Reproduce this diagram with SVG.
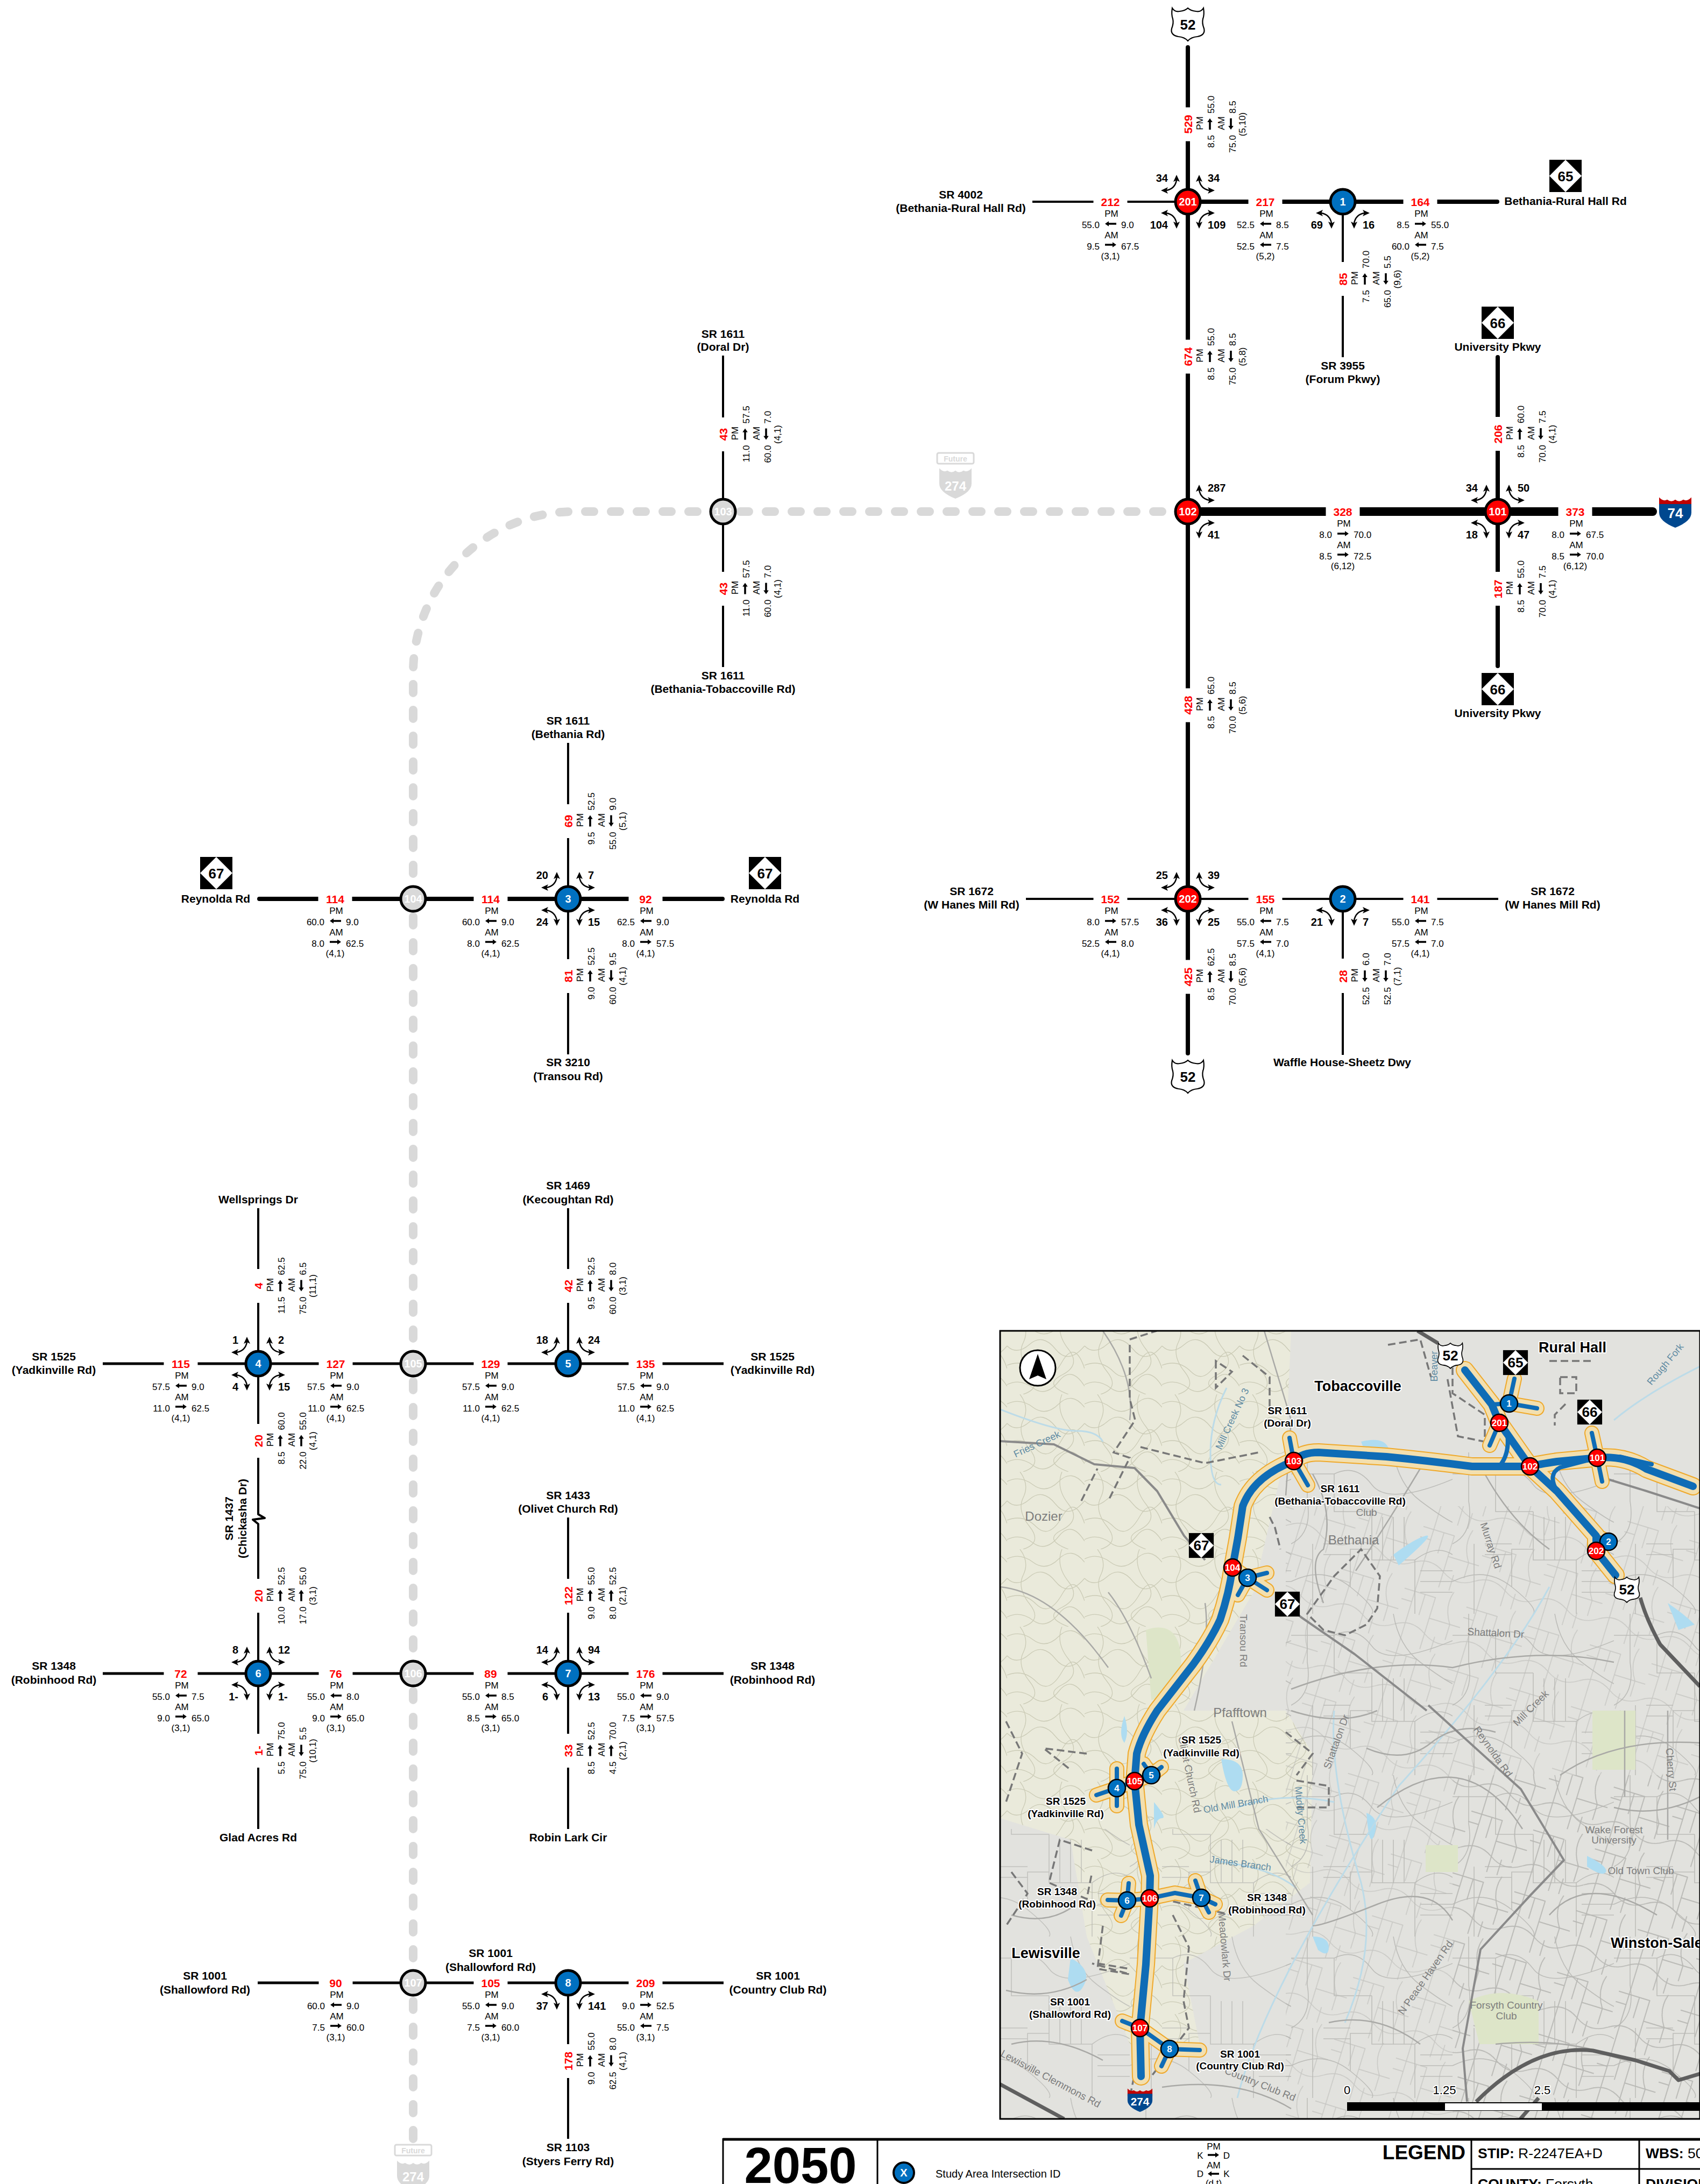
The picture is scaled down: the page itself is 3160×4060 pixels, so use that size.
<svg xmlns="http://www.w3.org/2000/svg" width="3160" height="4060" viewBox="0 0 3160 4060">
<style>
text{font-family:"Liberation Sans",Arial,Helvetica,sans-serif;fill:#000}
.v{font-size:21px;font-weight:700;fill:#f00;text-anchor:middle}
.s{font-size:17px;text-anchor:middle}
.l{font-size:17px;text-anchor:end}
.r{font-size:17px}
.cl{font-size:20px;font-weight:700;text-anchor:end}
.cr{font-size:20px;font-weight:700}
.n{font-size:21px;font-weight:700;text-anchor:middle}
.w{fill:#fff;font-weight:700;font-size:20px;text-anchor:middle}
.line{fill:none;stroke:#000;stroke-linejoin:round}
.w4{stroke-width:4}.w5{stroke-width:5}.w8{stroke-width:8}.w16{stroke-width:16}
.cap{stroke-linecap:round}
.red{fill:#f00;stroke:#000;stroke-width:5}
.blue{fill:#0070c0;stroke:#000;stroke-width:5}
.gray{fill:#d9d9d9;stroke:#000;stroke-width:5}
.future{fill:none;stroke:#d9d9d9;stroke-width:16;stroke-linecap:round;stroke-dasharray:16 32}
.fg{fill:#d9d9d9}
.sh{font-size:26px;font-weight:700;text-anchor:middle}
.sm{font-size:34px;font-weight:700;text-anchor:middle}
.shw{font-size:26px;font-weight:700;text-anchor:middle;fill:#fff}
.h{paint-order:stroke;stroke:#fff;stroke-width:4px;stroke-linejoin:round;text-anchor:middle;font-weight:700}
.m18{font-size:19px}.m27{font-size:27px}
.g{fill:#7d7d7d;font-size:19px;text-anchor:middle}
.b{fill:#5f8ba3;font-size:18px;text-anchor:middle}
.rd{fill:none;stroke:#8a8a8a;stroke-width:4;stroke-linejoin:round}
.rd2{fill:none;stroke:#5f5f5f;stroke-width:7;stroke-linejoin:round}
.st{fill:none;stroke:#a9a9a6;stroke-width:2.5}
.cb{fill:none;stroke:#777;stroke-width:3.5;stroke-dasharray:14 7}
.wt{fill:#aedcf1}
.pk{fill:#dde5c8}
.cb1{fill:none;stroke:#efa92b;stroke-width:34;stroke-linejoin:round;stroke-linecap:round}
.cb2{fill:none;stroke:#f3dfae;stroke-width:30;stroke-linejoin:round;stroke-linecap:round}
.cb3{fill:none;stroke:#0f6cb6;stroke-width:14;stroke-linejoin:round;stroke-linecap:round}
.lb1{fill:none;stroke:#efa92b;stroke-width:28;stroke-linejoin:round;stroke-linecap:round}
.lb2{fill:none;stroke:#f3dfae;stroke-width:24;stroke-linejoin:round;stroke-linecap:round}
.lb3{fill:none;stroke:#0f6cb6;stroke-width:8;stroke-linejoin:round;stroke-linecap:round}
.mr{fill:#f00;stroke:#000;stroke-width:2.5}
.mb{fill:#0070c0;stroke:#000;stroke-width:2.5}
.mt{fill:#fff;font-size:17px;font-weight:700;text-anchor:middle}
.lg{fill:none;stroke:#000;stroke-width:3}
</style>
<defs>
<path id="ar" d="M-10-1.8H4V-4.8L11 0 4 4.8V1.8H-10Z"/>
<path id="al" d="M11-1.8H-3V-4.8L-10 0-3 4.8V1.8H11Z"/>
<g id="t"><path d="M-40-21Q-24-24-21-40" fill="none" stroke="#000" stroke-width="2.5"/><path d="M-21-50-15-37-21-40-27-37Z"/><path d="M-50-21-37-27-40-21-37-15Z"/></g>
<path id="us" d="M-29-30Q-24-22-15-24-5-25 0-30 5-25 15-24 24-22 29-30 31-18 28-10 26-2 30 8 33 20 18 23 6 24 0 31-6 24-18 23-33 20-30 8-26-2-28-10-31-18-29-30Z" fill="#fff" stroke="#000" stroke-width="2.2"/>
<g id="nc"><rect x="-30" y="-30" width="60" height="60"/><path d="M0-30 30 0 0 30-30 0Z" fill="#fff"/></g>
<g id="is"><path d="M-30-8V-30Q-22-20-15-25-7-18 0-25 7-18 15-25 22-20 30-30V-8Z" fill="#c00000" transform="translate(0 -1) scale(1 .85)"/><path d="M-30-14H30V2Q30 18 0 30-30 18-30 2Z" fill="#00488f"/></g>
<g id="isg" class="fg"><path d="M-30-8V-30Q-22-20-15-25-7-18 0-25 7-18 15-25 22-20 30-30V-8Z" transform="translate(0 -1) scale(1 .85)"/><path d="M-30-14H30V2Q30 18 0 30-30 18-30 2Z"/></g>
<pattern id="streets" width="300" height="300" patternUnits="userSpaceOnUse"><path d="M0 40H80V110H150M80 40Q120 20 150 60T300 50M30 0V90Q40 150 0 170M150 110V200H230V300M230 200Q270 170 300 190M0 240Q60 210 110 250T150 300M110 250V180H150M190 0Q200 60 240 90T300 130M40 170V300M60 170H110M60 190H110M170 120V200M190 120V200M210 120V200M240 220H300M240 240H300M240 260H300" fill="none" stroke="#b4b4b0" stroke-width="1.6"/></pattern>
<pattern id="streets2" width="120" height="120" patternUnits="userSpaceOnUse" patternTransform="rotate(17)"><path d="M0 20H60V60H120M20 0V120M60 60V120M0 90Q30 70 60 90T120 90M90 0Q80 30 100 60M40 20V60M0 40H20M80 90V120M100 60V90" fill="none" stroke="#b6b6b2" stroke-width="1.4"/></pattern>
<pattern id="topo" width="240" height="240" patternUnits="userSpaceOnUse" patternTransform="scale(.6)"><path d="M0 30Q40 10 80 40T160 30T240 40M0 90Q30 120 70 85T150 100T240 90M0 150Q50 130 90 170T170 140T240 160M0 210Q40 190 80 220T160 200T240 215M40 0Q70 40 50 80T70 170T50 240M170 0Q150 50 190 100T170 180T190 240" fill="none" stroke="#cbcbb6" stroke-width="2.2"/></pattern>
<clipPath id="mapclip"><rect x="1859" y="2474" width="1301" height="1465"/></clipPath>
</defs>
<rect width="3160" height="4060" fill="#fff"/>

<g id="connectors">
<path class="future" d="M2160 951H1068A300 300 0 0 0 768 1251V3976"/>
<path class="line w4" d="M1919 375H2032.5M2095.5 375H2208M2496 375V487M2496 550V664M1907 1671H2032.5M2095.5 1671H2208M2208 1671H2320.5M2383.5 1671H2496M2496 1671H2608.5M2671.5 1671H2785M2496 1671V1782M2496 1846V1961M1344 661V776M1344 839V1063M1344 1126V1240M1056 1381V1495M1056 1558V1783M1056 1846V1960M480 2246V2359M480 2422V2647M480 2710V2815L492 2822 470 2825 480 2833V2935M480 2998V3223M480 3286V3400M1056 2246V2359M1056 2422V2535M1056 2821V2935M1056 2998V3223M1056 3286V3400M1056 3686V3800M1056 3863V3976"/>
<path class="line w5" d="M191 2535H304.5M367.5 2535H592.5M655.5 2535H880.5M943.5 2535H1168.5M1231.5 2535H1345M191 3111H304.5M367.5 3111H592.5M655.5 3111H880.5M943.5 3111H1168.5M1231.5 3111H1345M479 3686H592.5M655.5 3686H880.5M943.5 3686H1168.5M1231.5 3686H1345"/>
<path class="line w8" d="M2208 88V199.5M2208 262.5V631.5M2208 694.5V1279.5M2208 1342.5V1784.5M2208 1847.5V1958M2208 375H2320.5M2383.5 375H2496M2496 375H2608.5M2671.5 375H2783M2784 664V775M2784 838V1063M2784 1126V1238M482 1671H591.5M654.5 1671H880.5M943.5 1671H1168.5M1231.5 1671H1343"/>
<path class="line w8 cap" d="M2208 88h.01M2208 1958h.01M2783 375h.01M2784 664h.01M2784 1238h.01M482 1671h.01M1343 1671h.01"/>
<path class="line w16" d="M2208 951H2464.5M2527.5 951H2784M2784 951H2896.5M2959.5 951H3072"/>
<path class="line w16 cap" d="M3072 951h.01"/>
</g>

<g id="labels">
<g transform="translate(2064 375)"><text class="v" y="7.5">212</text><text class="s" x="2" y="28">PM</text><text class="l" x="-20" y="49">55.0</text><use href="#al" y="41"/><text class="r" x="20" y="49">9.0</text><text class="s" x="2" y="68">AM</text><text class="l" x="-20" y="89">9.5</text><use href="#ar" y="80"/><text class="r" x="20" y="89">67.5</text><text class="s" y="107">(3,1)</text></g>
<g transform="translate(2352 375)"><text class="v" y="7.5">217</text><text class="s" x="2" y="28">PM</text><text class="l" x="-20" y="49">52.5</text><use href="#al" y="41"/><text class="r" x="20" y="49">8.5</text><text class="s" x="2" y="68">AM</text><text class="l" x="-20" y="89">52.5</text><use href="#al" y="80"/><text class="r" x="20" y="89">7.5</text><text class="s" y="107">(5,2)</text></g>
<g transform="translate(2640 375)"><text class="v" y="7.5">164</text><text class="s" x="2" y="28">PM</text><text class="l" x="-20" y="49">8.5</text><use href="#ar" y="41"/><text class="r" x="20" y="49">55.0</text><text class="s" x="2" y="68">AM</text><text class="l" x="-20" y="89">60.0</text><use href="#al" y="80"/><text class="r" x="20" y="89">7.5</text><text class="s" y="107">(5,2)</text></g>
<g transform="translate(2496 951)"><text class="v" y="7.5">328</text><text class="s" x="2" y="28">PM</text><text class="l" x="-20" y="49">8.0</text><use href="#ar" y="41"/><text class="r" x="20" y="49">70.0</text><text class="s" x="2" y="68">AM</text><text class="l" x="-20" y="89">8.5</text><use href="#ar" y="80"/><text class="r" x="20" y="89">72.5</text><text class="s" y="107">(6,12)</text></g>
<g transform="translate(2928 951)"><text class="v" y="7.5">373</text><text class="s" x="2" y="28">PM</text><text class="l" x="-20" y="49">8.0</text><use href="#ar" y="41"/><text class="r" x="20" y="49">67.5</text><text class="s" x="2" y="68">AM</text><text class="l" x="-20" y="89">8.5</text><use href="#ar" y="80"/><text class="r" x="20" y="89">70.0</text><text class="s" y="107">(6,12)</text></g>
<g transform="translate(2064 1671)"><text class="v" y="7.5">152</text><text class="s" x="2" y="28">PM</text><text class="l" x="-20" y="49">8.0</text><use href="#ar" y="41"/><text class="r" x="20" y="49">57.5</text><text class="s" x="2" y="68">AM</text><text class="l" x="-20" y="89">52.5</text><use href="#al" y="80"/><text class="r" x="20" y="89">8.0</text><text class="s" y="107">(4,1)</text></g>
<g transform="translate(2352 1671)"><text class="v" y="7.5">155</text><text class="s" x="2" y="28">PM</text><text class="l" x="-20" y="49">55.0</text><use href="#al" y="41"/><text class="r" x="20" y="49">7.5</text><text class="s" x="2" y="68">AM</text><text class="l" x="-20" y="89">57.5</text><use href="#al" y="80"/><text class="r" x="20" y="89">7.0</text><text class="s" y="107">(4,1)</text></g>
<g transform="translate(2640 1671)"><text class="v" y="7.5">141</text><text class="s" x="2" y="28">PM</text><text class="l" x="-20" y="49">55.0</text><use href="#al" y="41"/><text class="r" x="20" y="49">7.5</text><text class="s" x="2" y="68">AM</text><text class="l" x="-20" y="89">57.5</text><use href="#al" y="80"/><text class="r" x="20" y="89">7.0</text><text class="s" y="107">(4,1)</text></g>
<g transform="translate(623 1671)"><text class="v" y="7.5">114</text><text class="s" x="2" y="28">PM</text><text class="l" x="-20" y="49">60.0</text><use href="#al" y="41"/><text class="r" x="20" y="49">9.0</text><text class="s" x="2" y="68">AM</text><text class="l" x="-20" y="89">8.0</text><use href="#ar" y="80"/><text class="r" x="20" y="89">62.5</text><text class="s" y="107">(4,1)</text></g>
<g transform="translate(912 1671)"><text class="v" y="7.5">114</text><text class="s" x="2" y="28">PM</text><text class="l" x="-20" y="49">60.0</text><use href="#al" y="41"/><text class="r" x="20" y="49">9.0</text><text class="s" x="2" y="68">AM</text><text class="l" x="-20" y="89">8.0</text><use href="#ar" y="80"/><text class="r" x="20" y="89">62.5</text><text class="s" y="107">(4,1)</text></g>
<g transform="translate(1200 1671)"><text class="v" y="7.5">92</text><text class="s" x="2" y="28">PM</text><text class="l" x="-20" y="49">62.5</text><use href="#al" y="41"/><text class="r" x="20" y="49">9.0</text><text class="s" x="2" y="68">AM</text><text class="l" x="-20" y="89">8.0</text><use href="#ar" y="80"/><text class="r" x="20" y="89">57.5</text><text class="s" y="107">(4,1)</text></g>
<g transform="translate(336 2535)"><text class="v" y="7.5">115</text><text class="s" x="2" y="28">PM</text><text class="l" x="-20" y="49">57.5</text><use href="#al" y="41"/><text class="r" x="20" y="49">9.0</text><text class="s" x="2" y="68">AM</text><text class="l" x="-20" y="89">11.0</text><use href="#ar" y="80"/><text class="r" x="20" y="89">62.5</text><text class="s" y="107">(4,1)</text></g>
<g transform="translate(624 2535)"><text class="v" y="7.5">127</text><text class="s" x="2" y="28">PM</text><text class="l" x="-20" y="49">57.5</text><use href="#al" y="41"/><text class="r" x="20" y="49">9.0</text><text class="s" x="2" y="68">AM</text><text class="l" x="-20" y="89">11.0</text><use href="#ar" y="80"/><text class="r" x="20" y="89">62.5</text><text class="s" y="107">(4,1)</text></g>
<g transform="translate(912 2535)"><text class="v" y="7.5">129</text><text class="s" x="2" y="28">PM</text><text class="l" x="-20" y="49">57.5</text><use href="#al" y="41"/><text class="r" x="20" y="49">9.0</text><text class="s" x="2" y="68">AM</text><text class="l" x="-20" y="89">11.0</text><use href="#ar" y="80"/><text class="r" x="20" y="89">62.5</text><text class="s" y="107">(4,1)</text></g>
<g transform="translate(1200 2535)"><text class="v" y="7.5">135</text><text class="s" x="2" y="28">PM</text><text class="l" x="-20" y="49">57.5</text><use href="#al" y="41"/><text class="r" x="20" y="49">9.0</text><text class="s" x="2" y="68">AM</text><text class="l" x="-20" y="89">11.0</text><use href="#ar" y="80"/><text class="r" x="20" y="89">62.5</text><text class="s" y="107">(4,1)</text></g>
<g transform="translate(336 3111)"><text class="v" y="7.5">72</text><text class="s" x="2" y="28">PM</text><text class="l" x="-20" y="49">55.0</text><use href="#al" y="41"/><text class="r" x="20" y="49">7.5</text><text class="s" x="2" y="68">AM</text><text class="l" x="-20" y="89">9.0</text><use href="#ar" y="80"/><text class="r" x="20" y="89">65.0</text><text class="s" y="107">(3,1)</text></g>
<g transform="translate(624 3111)"><text class="v" y="7.5">76</text><text class="s" x="2" y="28">PM</text><text class="l" x="-20" y="49">55.0</text><use href="#al" y="41"/><text class="r" x="20" y="49">8.0</text><text class="s" x="2" y="68">AM</text><text class="l" x="-20" y="89">9.0</text><use href="#ar" y="80"/><text class="r" x="20" y="89">65.0</text><text class="s" y="107">(3,1)</text></g>
<g transform="translate(912 3111)"><text class="v" y="7.5">89</text><text class="s" x="2" y="28">PM</text><text class="l" x="-20" y="49">55.0</text><use href="#al" y="41"/><text class="r" x="20" y="49">8.5</text><text class="s" x="2" y="68">AM</text><text class="l" x="-20" y="89">8.5</text><use href="#ar" y="80"/><text class="r" x="20" y="89">65.0</text><text class="s" y="107">(3,1)</text></g>
<g transform="translate(1200 3111)"><text class="v" y="7.5">176</text><text class="s" x="2" y="28">PM</text><text class="l" x="-20" y="49">55.0</text><use href="#al" y="41"/><text class="r" x="20" y="49">9.0</text><text class="s" x="2" y="68">AM</text><text class="l" x="-20" y="89">7.5</text><use href="#ar" y="80"/><text class="r" x="20" y="89">57.5</text><text class="s" y="107">(3,1)</text></g>
<g transform="translate(624 3686)"><text class="v" y="7.5">90</text><text class="s" x="2" y="28">PM</text><text class="l" x="-20" y="49">60.0</text><use href="#al" y="41"/><text class="r" x="20" y="49">9.0</text><text class="s" x="2" y="68">AM</text><text class="l" x="-20" y="89">7.5</text><use href="#ar" y="80"/><text class="r" x="20" y="89">60.0</text><text class="s" y="107">(3,1)</text></g>
<g transform="translate(912 3686)"><text class="v" y="7.5">105</text><text class="s" x="2" y="28">PM</text><text class="l" x="-20" y="49">55.0</text><use href="#al" y="41"/><text class="r" x="20" y="49">9.0</text><text class="s" x="2" y="68">AM</text><text class="l" x="-20" y="89">7.5</text><use href="#ar" y="80"/><text class="r" x="20" y="89">60.0</text><text class="s" y="107">(3,1)</text></g>
<g transform="translate(1200 3686)"><text class="v" y="7.5">209</text><text class="s" x="2" y="28">PM</text><text class="l" x="-20" y="49">9.0</text><use href="#ar" y="41"/><text class="r" x="20" y="49">52.5</text><text class="s" x="2" y="68">AM</text><text class="l" x="-20" y="89">55.0</text><use href="#al" y="80"/><text class="r" x="20" y="89">7.5</text><text class="s" y="107">(3,1)</text></g>

<g transform="translate(2208 231) rotate(-90)"><text class="v" y="7.5">529</text><text class="s" x="2" y="28">PM</text><text class="l" x="-20" y="49">8.5</text><use href="#ar" y="41"/><text class="r" x="20" y="49">55.0</text><text class="s" x="2" y="68">AM</text><text class="l" x="-20" y="89">75.0</text><use href="#al" y="80"/><text class="r" x="20" y="89">8.5</text><text class="s" y="107">(5,10)</text></g>
<g transform="translate(2208 663) rotate(-90)"><text class="v" y="7.5">674</text><text class="s" x="2" y="28">PM</text><text class="l" x="-20" y="49">8.5</text><use href="#ar" y="41"/><text class="r" x="20" y="49">55.0</text><text class="s" x="2" y="68">AM</text><text class="l" x="-20" y="89">75.0</text><use href="#al" y="80"/><text class="r" x="20" y="89">8.5</text><text class="s" y="107">(5,8)</text></g>
<g transform="translate(2208 1311) rotate(-90)"><text class="v" y="7.5">428</text><text class="s" x="2" y="28">PM</text><text class="l" x="-20" y="49">8.5</text><use href="#ar" y="41"/><text class="r" x="20" y="49">65.0</text><text class="s" x="2" y="68">AM</text><text class="l" x="-20" y="89">70.0</text><use href="#al" y="80"/><text class="r" x="20" y="89">8.5</text><text class="s" y="107">(5,6)</text></g>
<g transform="translate(2208 1816) rotate(-90)"><text class="v" y="7.5">425</text><text class="s" x="2" y="28">PM</text><text class="l" x="-20" y="49">8.5</text><use href="#ar" y="41"/><text class="r" x="20" y="49">62.5</text><text class="s" x="2" y="68">AM</text><text class="l" x="-20" y="89">70.0</text><use href="#al" y="80"/><text class="r" x="20" y="89">8.5</text><text class="s" y="107">(5,6)</text></g>
<g transform="translate(2496 519) rotate(-90)"><text class="v" y="7.5">85</text><text class="s" x="2" y="28">PM</text><text class="l" x="-20" y="49">7.5</text><use href="#ar" y="41"/><text class="r" x="20" y="49">70.0</text><text class="s" x="2" y="68">AM</text><text class="l" x="-20" y="89">65.0</text><use href="#al" y="80"/><text class="r" x="20" y="89">5.5</text><text class="s" y="107">(9,6)</text></g>
<g transform="translate(2784 807) rotate(-90)"><text class="v" y="7.5">206</text><text class="s" x="2" y="28">PM</text><text class="l" x="-20" y="49">8.5</text><use href="#ar" y="41"/><text class="r" x="20" y="49">60.0</text><text class="s" x="2" y="68">AM</text><text class="l" x="-20" y="89">70.0</text><use href="#al" y="80"/><text class="r" x="20" y="89">7.5</text><text class="s" y="107">(4,1)</text></g>
<g transform="translate(2784 1095) rotate(-90)"><text class="v" y="7.5">187</text><text class="s" x="2" y="28">PM</text><text class="l" x="-20" y="49">8.5</text><use href="#ar" y="41"/><text class="r" x="20" y="49">55.0</text><text class="s" x="2" y="68">AM</text><text class="l" x="-20" y="89">70.0</text><use href="#al" y="80"/><text class="r" x="20" y="89">7.5</text><text class="s" y="107">(4,1)</text></g>
<g transform="translate(2496 1815) rotate(-90)"><text class="v" y="7.5">28</text><text class="s" x="2" y="28">PM</text><text class="l" x="-20" y="49">52.5</text><use href="#al" y="41"/><text class="r" x="20" y="49">6.0</text><text class="s" x="2" y="68">AM</text><text class="l" x="-20" y="89">52.5</text><use href="#al" y="80"/><text class="r" x="20" y="89">7.0</text><text class="s" y="107">(7,1)</text></g>
<g transform="translate(1344 807.5) rotate(-90)"><text class="v" y="7.5">43</text><text class="s" x="2" y="28">PM</text><text class="l" x="-20" y="49">11.0</text><use href="#ar" y="41"/><text class="r" x="20" y="49">57.5</text><text class="s" x="2" y="68">AM</text><text class="l" x="-20" y="89">60.0</text><use href="#al" y="80"/><text class="r" x="20" y="89">7.0</text><text class="s" y="107">(4,1)</text></g>
<g transform="translate(1344 1094.5) rotate(-90)"><text class="v" y="7.5">43</text><text class="s" x="2" y="28">PM</text><text class="l" x="-20" y="49">11.0</text><use href="#ar" y="41"/><text class="r" x="20" y="49">57.5</text><text class="s" x="2" y="68">AM</text><text class="l" x="-20" y="89">60.0</text><use href="#al" y="80"/><text class="r" x="20" y="89">7.0</text><text class="s" y="107">(4,1)</text></g>
<g transform="translate(1056 1526.5) rotate(-90)"><text class="v" y="7.5">69</text><text class="s" x="2" y="28">PM</text><text class="l" x="-20" y="49">9.5</text><use href="#ar" y="41"/><text class="r" x="20" y="49">52.5</text><text class="s" x="2" y="68">AM</text><text class="l" x="-20" y="89">55.0</text><use href="#al" y="80"/><text class="r" x="20" y="89">9.0</text><text class="s" y="107">(5,1)</text></g>
<g transform="translate(1056 1814.5) rotate(-90)"><text class="v" y="7.5">81</text><text class="s" x="2" y="28">PM</text><text class="l" x="-20" y="49">9.0</text><use href="#ar" y="41"/><text class="r" x="20" y="49">52.5</text><text class="s" x="2" y="68">AM</text><text class="l" x="-20" y="89">60.0</text><use href="#al" y="80"/><text class="r" x="20" y="89">9.5</text><text class="s" y="107">(4,1)</text></g>
<g transform="translate(480 2390.5) rotate(-90)"><text class="v" y="7.5">4</text><text class="s" x="2" y="28">PM</text><text class="l" x="-20" y="49">11.5</text><use href="#ar" y="41"/><text class="r" x="20" y="49">62.5</text><text class="s" x="2" y="68">AM</text><text class="l" x="-20" y="89">75.0</text><use href="#al" y="80"/><text class="r" x="20" y="89">6.5</text><text class="s" y="107">(11,1)</text></g>
<g transform="translate(1056 2390.5) rotate(-90)"><text class="v" y="7.5">42</text><text class="s" x="2" y="28">PM</text><text class="l" x="-20" y="49">9.5</text><use href="#ar" y="41"/><text class="r" x="20" y="49">52.5</text><text class="s" x="2" y="68">AM</text><text class="l" x="-20" y="89">60.0</text><use href="#al" y="80"/><text class="r" x="20" y="89">8.0</text><text class="s" y="107">(3,1)</text></g>
<g transform="translate(480 2678.5) rotate(-90)"><text class="v" y="7.5">20</text><text class="s" x="2" y="28">PM</text><text class="l" x="-20" y="49">8.5</text><use href="#ar" y="41"/><text class="r" x="20" y="49">60.0</text><text class="s" x="2" y="68">AM</text><text class="l" x="-20" y="89">22.0</text><use href="#ar" y="80"/><text class="r" x="20" y="89">55.0</text><text class="s" y="107">(4,1)</text></g>
<g transform="translate(480 2966.5) rotate(-90)"><text class="v" y="7.5">20</text><text class="s" x="2" y="28">PM</text><text class="l" x="-20" y="49">10.0</text><use href="#ar" y="41"/><text class="r" x="20" y="49">52.5</text><text class="s" x="2" y="68">AM</text><text class="l" x="-20" y="89">17.0</text><use href="#ar" y="80"/><text class="r" x="20" y="89">55.0</text><text class="s" y="107">(3,1)</text></g>
<g transform="translate(1056 2966.5) rotate(-90)"><text class="v" y="7.5">122</text><text class="s" x="2" y="28">PM</text><text class="l" x="-20" y="49">9.0</text><use href="#ar" y="41"/><text class="r" x="20" y="49">55.0</text><text class="s" x="2" y="68">AM</text><text class="l" x="-20" y="89">8.0</text><use href="#ar" y="80"/><text class="r" x="20" y="89">52.5</text><text class="s" y="107">(2,1)</text></g>
<g transform="translate(480 3254.5) rotate(-90)"><text class="v" y="7.5">1-</text><text class="s" x="2" y="28">PM</text><text class="l" x="-20" y="49">5.5</text><use href="#ar" y="41"/><text class="r" x="20" y="49">75.0</text><text class="s" x="2" y="68">AM</text><text class="l" x="-20" y="89">75.0</text><use href="#al" y="80"/><text class="r" x="20" y="89">5.5</text><text class="s" y="107">(10,1)</text></g>
<g transform="translate(1056 3254.5) rotate(-90)"><text class="v" y="7.5">33</text><text class="s" x="2" y="28">PM</text><text class="l" x="-20" y="49">8.5</text><use href="#ar" y="41"/><text class="r" x="20" y="49">52.5</text><text class="s" x="2" y="68">AM</text><text class="l" x="-20" y="89">4.5</text><use href="#ar" y="80"/><text class="r" x="20" y="89">70.0</text><text class="s" y="107">(2,1)</text></g>
<g transform="translate(1056 3831.5) rotate(-90)"><text class="v" y="7.5">178</text><text class="s" x="2" y="28">PM</text><text class="l" x="-20" y="49">9.0</text><use href="#ar" y="41"/><text class="r" x="20" y="49">55.0</text><text class="s" x="2" y="68">AM</text><text class="l" x="-20" y="89">62.5</text><use href="#al" y="80"/><text class="r" x="20" y="89">8.0</text><text class="s" y="107">(4,1)</text></g>
</g>

<g id="road-names">
<text class="n" x="1786" y="369">SR 4002</text><text class="n" x="1786" y="394">(Bethania-Rural Hall Rd)</text>
<text class="n" x="2910" y="381">Bethania-Rural Hall Rd</text>
<text class="n" x="2496" y="687">SR 3955</text><text class="n" x="2496" y="712">(Forum Pkwy)</text>
<text class="n" x="2784" y="652">University Pkwy</text>
<text class="n" x="2784" y="1333">University Pkwy</text>
<text class="n" x="1806" y="1664">SR 1672</text><text class="n" x="1806" y="1689">(W Hanes Mill Rd)</text>
<text class="n" x="2886" y="1664">SR 1672</text><text class="n" x="2886" y="1689">(W Hanes Mill Rd)</text>
<text class="n" x="2495" y="1982">Waffle House-Sheetz Dwy</text>
<text class="n" x="1344" y="628">SR 1611</text><text class="n" x="1344" y="652">(Doral Dr)</text>
<text class="n" x="1344" y="1263">SR 1611</text><text class="n" x="1344" y="1288">(Bethania-Tobaccoville Rd)</text>
<text class="n" x="1056" y="1347">SR 1611</text><text class="n" x="1056" y="1372">(Bethania Rd)</text>
<text class="n" x="1056" y="1982">SR 3210</text><text class="n" x="1056" y="2008">(Transou Rd)</text>
<text class="n" x="401" y="1678">Reynolda Rd</text><text class="n" x="1422" y="1678">Reynolda Rd</text>
<text class="n" x="480" y="2237">Wellsprings Dr</text>
<text class="n" x="1056" y="2211">SR 1469</text><text class="n" x="1056" y="2237">(Kecoughtan Rd)</text>
<text class="n" x="100" y="2529">SR 1525</text><text class="n" x="100" y="2554">(Yadkinville Rd)</text>
<text class="n" x="1436" y="2529">SR 1525</text><text class="n" x="1436" y="2554">(Yadkinville Rd)</text>
<text class="n" transform="translate(433 2823) rotate(-90)">SR 1437</text><text class="n" transform="translate(458 2823) rotate(-90)">(Chickasha Dr)</text>
<text class="n" x="1056" y="2787">SR 1433</text><text class="n" x="1056" y="2812">(Olivet Church Rd)</text>
<text class="n" x="100" y="3104">SR 1348</text><text class="n" x="100" y="3130">(Robinhood Rd)</text>
<text class="n" x="1436" y="3104">SR 1348</text><text class="n" x="1436" y="3130">(Robinhood Rd)</text>
<text class="n" x="480" y="3423">Glad Acres Rd</text><text class="n" x="1056" y="3423">Robin Lark Cir</text>
<text class="n" x="381" y="3680">SR 1001</text><text class="n" x="381" y="3706">(Shallowford Rd)</text>
<text class="n" x="912" y="3638">SR 1001</text><text class="n" x="912" y="3664">(Shallowford Rd)</text>
<text class="n" x="1446" y="3680">SR 1001</text><text class="n" x="1446" y="3706">(Country Club Rd)</text>
<text class="n" x="1056" y="3999">SR 1103</text><text class="n" x="1056" y="4025">(Styers Ferry Rd)</text>
</g>

<g id="shields">
<g transform="translate(2208 45)"><use href="#us"/><text class="sh" y="10">52</text></g>
<g transform="translate(2208 2001)"><use href="#us"/><text class="sh" y="10">52</text></g>
<g transform="translate(2910 327)"><use href="#nc"/><text class="sh" y="10">65</text></g>
<g transform="translate(2784 600)"><use href="#nc"/><text class="sh" y="10">66</text></g>
<g transform="translate(2784 1281)"><use href="#nc"/><text class="sh" y="10">66</text></g>
<g transform="translate(402 1623)"><use href="#nc"/><text class="sh" y="10">67</text></g>
<g transform="translate(1422 1623)"><use href="#nc"/><text class="sh" y="10">67</text></g>
<g transform="translate(3114 951)"><use href="#is"/><text class="shw" y="12">74</text></g>
<g transform="translate(1776 897)"><use href="#isg"/><text class="shw" y="15" style="font-size:24px">274</text><rect x="-34" y="-55" width="68" height="20" rx="3" fill="#fff" stroke="#d9d9d9" stroke-width="3"/><text y="-39" text-anchor="middle" style="font-size:14px;font-weight:700;fill:#d9d9d9">Future</text></g>
<g transform="translate(768 4043)"><use href="#isg"/><text class="shw" y="12" style="font-size:24px">274</text><rect x="-34" y="-56" width="68" height="20" rx="3" fill="#fff" stroke="#d9d9d9" stroke-width="3"/><text y="-40" text-anchor="middle" style="font-size:14px;font-weight:700;fill:#d9d9d9">Future</text></g>
</g>

<g id="node-201" transform="translate(2208 375)"><circle class="red" r="23"/><text class="w" y="7">201</text><use href="#t"/><use href="#t" transform="scale(-1 1)"/><use href="#t" transform="scale(1 -1)"/><use href="#t" transform="scale(-1 -1)"/><text class="cl" x="-37" y="-37">34</text><text class="cr" x="37" y="-37">34</text><text class="cl" x="-37" y="50">104</text><text class="cr" x="37" y="50">109</text></g>
<g id="node-1" transform="translate(2496 375)"><circle class="blue" r="23"/><text class="w" y="7">1</text><use href="#t" transform="scale(1 -1)"/><use href="#t" transform="scale(-1 -1)"/><text class="cl" x="-37" y="50">69</text><text class="cr" x="37" y="50">16</text></g>
<g id="node-102" transform="translate(2208 951)"><circle class="red" r="23"/><text class="w" y="7">102</text><use href="#t" transform="scale(-1 1)"/><use href="#t" transform="scale(-1 -1)"/><text class="cr" x="37" y="-37">287</text><text class="cr" x="37" y="50">41</text></g>
<g id="node-101" transform="translate(2784 951)"><circle class="red" r="23"/><text class="w" y="7">101</text><use href="#t"/><use href="#t" transform="scale(-1 1)"/><use href="#t" transform="scale(1 -1)"/><use href="#t" transform="scale(-1 -1)"/><text class="cl" x="-37" y="-37">34</text><text class="cr" x="37" y="-37">50</text><text class="cl" x="-37" y="50">18</text><text class="cr" x="37" y="50">47</text></g>
<g id="node-202" transform="translate(2208 1671)"><circle class="red" r="23"/><text class="w" y="7">202</text><use href="#t"/><use href="#t" transform="scale(-1 1)"/><use href="#t" transform="scale(1 -1)"/><use href="#t" transform="scale(-1 -1)"/><text class="cl" x="-37" y="-37">25</text><text class="cr" x="37" y="-37">39</text><text class="cl" x="-37" y="50">36</text><text class="cr" x="37" y="50">25</text></g>
<g id="node-2" transform="translate(2496 1671)"><circle class="blue" r="23"/><text class="w" y="7">2</text><use href="#t" transform="scale(1 -1)"/><use href="#t" transform="scale(-1 -1)"/><text class="cl" x="-37" y="50">21</text><text class="cr" x="37" y="50">7</text></g>
<g id="node-103" transform="translate(1344 951)"><circle class="gray" r="23"/><text class="w" y="7">103</text></g>
<g id="node-104" transform="translate(768 1671)"><circle class="gray" r="23"/><text class="w" y="7">104</text></g>
<g id="node-3" transform="translate(1056 1671)"><circle class="blue" r="23"/><text class="w" y="7">3</text><use href="#t"/><use href="#t" transform="scale(-1 1)"/><use href="#t" transform="scale(1 -1)"/><use href="#t" transform="scale(-1 -1)"/><text class="cl" x="-37" y="-37">20</text><text class="cr" x="37" y="-37">7</text><text class="cl" x="-37" y="50">24</text><text class="cr" x="37" y="50">15</text></g>
<g id="node-4" transform="translate(480 2535)"><circle class="blue" r="23"/><text class="w" y="7">4</text><use href="#t"/><use href="#t" transform="scale(-1 1)"/><use href="#t" transform="scale(1 -1)"/><use href="#t" transform="scale(-1 -1)"/><text class="cl" x="-37" y="-37">1</text><text class="cr" x="37" y="-37">2</text><text class="cl" x="-37" y="50">4</text><text class="cr" x="37" y="50">15</text></g>
<g id="node-105" transform="translate(768 2535)"><circle class="gray" r="23"/><text class="w" y="7">105</text></g>
<g id="node-5" transform="translate(1056 2535)"><circle class="blue" r="23"/><text class="w" y="7">5</text><use href="#t"/><use href="#t" transform="scale(-1 1)"/><text class="cl" x="-37" y="-37">18</text><text class="cr" x="37" y="-37">24</text></g>
<g id="node-6" transform="translate(480 3111)"><circle class="blue" r="23"/><text class="w" y="7">6</text><use href="#t"/><use href="#t" transform="scale(-1 1)"/><use href="#t" transform="scale(1 -1)"/><use href="#t" transform="scale(-1 -1)"/><text class="cl" x="-37" y="-37">8</text><text class="cr" x="37" y="-37">12</text><text class="cl" x="-37" y="50">1-</text><text class="cr" x="37" y="50">1-</text></g>
<g id="node-106" transform="translate(768 3111)"><circle class="gray" r="23"/><text class="w" y="7">106</text></g>
<g id="node-7" transform="translate(1056 3111)"><circle class="blue" r="23"/><text class="w" y="7">7</text><use href="#t"/><use href="#t" transform="scale(-1 1)"/><use href="#t" transform="scale(1 -1)"/><use href="#t" transform="scale(-1 -1)"/><text class="cl" x="-37" y="-37">14</text><text class="cr" x="37" y="-37">94</text><text class="cl" x="-37" y="50">6</text><text class="cr" x="37" y="50">13</text></g>
<g id="node-107" transform="translate(768 3686)"><circle class="gray" r="23"/><text class="w" y="7">107</text></g>
<g id="node-8" transform="translate(1056 3686)"><circle class="blue" r="23"/><text class="w" y="7">8</text><use href="#t" transform="scale(1 -1)"/><use href="#t" transform="scale(-1 -1)"/><text class="cl" x="-37" y="50">37</text><text class="cr" x="37" y="50">141</text></g>

<g id="map">
<g clip-path="url(#mapclip)">
<rect x="1859" y="2474" width="1301" height="1465" fill="#e2e2de"/>
<path d="M1859 2474H2400L2390 2700 2330 2960 2200 3180H2390L2440 3260 2435 3500 2330 3580 2200 3650 2230 3800 2100 3800 2020 3600 1990 3420 1859 3380Z" fill="#eaeadb"/>
<path d="M1859 2474H2400L2390 2700 2330 2960 2200 3180H2390L2440 3260 2435 3500 2330 3580 2200 3650 2230 3800 2100 3800 2020 3600 1990 3420 1859 3380Z" fill="url(#topo)"/>
<rect x="2390" y="2700" width="770" height="1239" fill="url(#streets)" opacity=".8"/>
<rect x="2390" y="2800" width="770" height="1139" fill="url(#streets2)" opacity=".65"/>
<rect x="2700" y="3300" width="460" height="639" fill="url(#streets2)"/>
<rect x="1859" y="3400" width="540" height="539" fill="url(#streets)" opacity=".7"/>
<path class="pk" d="M2130 3030Q2190 3010 2195 3080T2140 3160Z"/>
<path class="pk" d="M2960 3180H3040V3290H2960ZM2730 3720Q2790 3690 2860 3720V3800H2750ZM2650 3430H2710V3480H2650Z"/>
<path class="wt" d="M2530 2680Q2570 2670 2580 2690T2540 2705ZM2590 2890Q2630 2860 2650 2855T2600 2910ZM2090 3190Q2100 3220 2090 3240 2078 3225 2090 3190ZM2270 3270Q2310 3270 2310 3300T2295 3330 2270 3270ZM2145 3350Q2170 3380 2160 3380T2145 3400ZM2540 3370Q2565 3380 2555 3410T2540 3370ZM2440 3600Q2470 3600 2470 3620T2450 3625ZM1990 3640Q2030 3660 2015 3690T1985 3680ZM2950 3450Q2990 3470 2985 3480T2950 3470ZM3100 2980Q3130 3000 3150 3020L3120 3030Z"/>
<path fill="none" stroke="#bcdbe8" stroke-width="3" d="M1859 2620Q1960 2660 2000 2660T2050 2680M2280 2580Q2250 2640 2250 2700T2270 2760M3160 2540Q3060 2590 3000 2640M2300 3360Q2380 3330 2480 3350M2260 3460Q2360 3470 2410 3510M2480 3180Q2470 3300 2530 3500 2560 3620 2500 3760M2880 2950Q2800 3100 2600 3320 2350 3700 2300 3900"/>
<path class="st" d="M2050 2474Q2110 2560 2100 2640M2350 2474L2400 2640 2390 2780M1859 2950Q1960 2960 2060 3100M2060 2960Q2100 3010 2140 3120M2440 2740Q2480 2810 2460 2880 2430 2900 2460 2980M2640 2730Q2580 2830 2520 2920M2760 2740Q2810 2830 2880 2880M2400 3140Q2560 3080 2700 3100 2860 3060 3000 3090M2240 2980Q2250 3050 2220 3180M2290 3200L2340 3400 2440 3560M2400 3180Q2490 3210 2560 3180M2540 3250Q2610 3280 2660 3240T2780 3220M2560 3360Q2720 3230 2830 3400M2700 3570Q2660 3500 2560 3540T2440 3580M2900 3300Q3000 3230 3160 3240M3000 3360Q3080 3380 3160 3340M3020 3180V3340M3100 3180V3420M2880 3560Q2950 3480 3080 3560M2470 3760Q2560 3740 2640 3800M1880 3560Q1950 3580 2000 3540M1870 3700Q1950 3720 2020 3680M1880 3800Q1960 3780 2050 3830M2160 3880Q2300 3860 2400 3920M2780 3800Q2880 3790 2960 3810"/>
<path class="rd" d="M1859 2679 1959 2685 2034 2722 2109 2729 2151 2772 2201 2855 2240 2900M2400 2990 2418 3006 2518 3075 2652 3180M2655 3170 2827 3326 2907 3458 2844 3524 2752 3624 2719 3808 2727 3907M2986 2749 3061 2772 3160 2804"/>
<path class="rd2" d="M2635 2474 2673 2497M3049 2970Q3060 3010 3086 3057L3160 3135M2744 3907Q2850 3800 2961 3812L3040 3830 3103 3850 3120 3867 3160 3855M1858 3874 1978 3939M2860 3900 2826 3939"/>
<path class="cb" d="M2100 2490 2150 2474M2100 2500V2600L2110 2640 2070 2700 2100 2710 2060 2790M2010 2790 2040 2730M2120 2690 2240 2720 2340 2700M2310 2520 2360 2560V2620M2260 2530V2580L2290 2550ZM2360 2820 2370 2840 2380 2880M2430 3000 2480 2930 2530 2880 2565 2930 2560 2990 2540 3020 2500 3040 2460 3030ZM2580 2500 2640 2490 2660 2560M2700 2500V2590L2760 2630V2680L2710 2670 2690 2560M2880 2530H2960M2900 2560H2930V2590H2900ZM2910 2610 2890 2630V2650M1870 3200 1900 3260 1870 3350M2020 3260 1940 3250 1990 3290M2030 3440 1970 3420 1950 3500 2020 3530 2030 3480M1880 3480 1910 3520 1870 3580M2050 3580 2040 3660 2100 3670 2030 3650M2040 3650 2100 3660M2180 3560 2210 3620 2200 3720 2210 3770 2140 3860M2410 3310 2470 3320 2470 3360 2410 3360M2390 3220 2440 3260 2410 3300M2160 3530 2290 3560M2120 3800 2100 3900"/>
<path class="cb1" d="M3147 2763 3061 2731Q3020 2705 2969 2710L2894 2717Q2860 2722 2844 2726L2736 2726Q2650 2715 2577 2708L2451 2700Q2420 2700 2405 2716 2330 2745 2310 2800L2301 2859 2291 2914Q2285 2960 2268 3011 2250 3050 2218 3094L2151 3180Q2122 3225 2113 3260L2109 3311 2117 3392 2138 3487 2137 3529 2130 3652 2119 3770 2121 3860M2723 2547 2773 2611 2787 2645 2844 2726 2894 2772 2967 2855 2967 2883 3003 2928"/>
<path class="lb1" d="M2805 2609 2815 2563M2805 2609 2857 2618M2787 2645 2769 2687M2405 2716 2397 2673M2405 2716 2431 2761M2969 2710 2959 2664M2969 2710 2978 2754M2990 2866 2967 2855M2291 2914 2319 2933 2355 2924M2319 2933 2355 2956M2319 2933 2301 2965M2109 3311 2076 3324 2076 3288M2076 3324 2038 3337M2076 3324 2076 3357M2109 3311 2140 3300 2159 3285M2140 3300 2126 3279M2137 3529 2095 3533 2098 3501M2095 3533 2059 3532M2095 3533 2084 3561M2137 3529 2184 3519 2233 3528 2222 3496M2233 3528 2259 3540M2233 3528 2247 3555M2119 3770 2086 3757M2119 3770 2174 3809 2230 3811M2174 3809 2159 3841"/>
<path class="cb2" d="M3147 2763 3061 2731Q3020 2705 2969 2710L2894 2717Q2860 2722 2844 2726L2736 2726Q2650 2715 2577 2708L2451 2700Q2420 2700 2405 2716 2330 2745 2310 2800L2301 2859 2291 2914Q2285 2960 2268 3011 2250 3050 2218 3094L2151 3180Q2122 3225 2113 3260L2109 3311 2117 3392 2138 3487 2137 3529 2130 3652 2119 3770 2121 3860M2723 2547 2773 2611 2787 2645 2844 2726 2894 2772 2967 2855 2967 2883 3003 2928"/>
<path class="lb2" d="M2805 2609 2815 2563M2805 2609 2857 2618M2787 2645 2769 2687M2405 2716 2397 2673M2405 2716 2431 2761M2969 2710 2959 2664M2969 2710 2978 2754M2990 2866 2967 2855M2291 2914 2319 2933 2355 2924M2319 2933 2355 2956M2319 2933 2301 2965M2109 3311 2076 3324 2076 3288M2076 3324 2038 3337M2076 3324 2076 3357M2109 3311 2140 3300 2159 3285M2140 3300 2126 3279M2137 3529 2095 3533 2098 3501M2095 3533 2059 3532M2095 3533 2084 3561M2137 3529 2184 3519 2233 3528 2222 3496M2233 3528 2259 3540M2233 3528 2247 3555M2119 3770 2086 3757M2119 3770 2174 3809 2230 3811M2174 3809 2159 3841"/>
<path class="cb3" d="M3147 2763 3061 2731Q3020 2705 2969 2710L2894 2717Q2860 2722 2844 2726L2736 2726Q2650 2715 2577 2708L2451 2700Q2420 2700 2405 2716 2330 2745 2310 2800L2301 2859 2291 2914Q2285 2960 2268 3011 2250 3050 2218 3094L2151 3180Q2122 3225 2113 3260L2109 3311 2117 3392 2138 3487 2137 3529 2130 3652 2119 3770 2121 3860M2723 2547 2773 2611 2787 2645 2844 2726 2894 2772 2967 2855 2967 2883 3003 2928"/>
<path class="lb3" d="M2805 2609 2815 2563M2805 2609 2857 2618M2773 2611 2805 2609M2787 2645 2769 2687M2405 2716 2397 2673M2405 2716 2431 2761M2969 2710 2959 2664M2969 2710 2978 2754M2990 2866 2967 2855M2291 2914 2319 2933 2355 2924M2319 2933 2355 2956M2319 2933 2301 2965M2109 3311 2076 3324 2076 3288M2076 3324 2038 3337M2076 3324 2076 3357M2109 3311 2140 3300 2159 3285M2140 3300 2126 3279M2137 3529 2095 3533 2098 3501M2095 3533 2059 3532M2095 3533 2084 3561M2137 3529 2184 3519 2233 3528 2222 3496M2233 3528 2259 3540M2233 3528 2247 3555M2119 3770 2086 3757M2119 3770 2174 3809 2230 3811M2174 3809 2159 3841M2802 2667Q2806 2700 2790 2722M2894 2772Q2876 2740 2900 2728L2969 2710M3011 2708 3070 2722"/>
<g id="map-nodes">
<circle class="mb" cx="2805" cy="2609" r="16"/><text class="mt" x="2805" y="2615">1</text>
<circle class="mr" cx="2787" cy="2645" r="16"/><text class="mt" x="2787" y="2651">201</text>
<circle class="mr" cx="2844" cy="2726" r="16"/><text class="mt" x="2844" y="2732">102</text>
<circle class="mr" cx="2969" cy="2710" r="16"/><text class="mt" x="2969" y="2716">101</text>
<circle class="mb" cx="2990" cy="2866" r="16"/><text class="mt" x="2990" y="2872">2</text>
<circle class="mr" cx="2967" cy="2883" r="16"/><text class="mt" x="2967" y="2889">202</text>
<circle class="mr" cx="2405" cy="2716" r="16"/><text class="mt" x="2405" y="2722">103</text>
<circle class="mr" cx="2291" cy="2914" r="16"/><text class="mt" x="2291" y="2920">104</text>
<circle class="mb" cx="2319" cy="2933" r="16"/><text class="mt" x="2319" y="2939">3</text>
<circle class="mb" cx="2076" cy="3324" r="16"/><text class="mt" x="2076" y="3330">4</text>
<circle class="mb" cx="2140" cy="3300" r="16"/><text class="mt" x="2140" y="3306">5</text>
<circle class="mr" cx="2109" cy="3311" r="16"/><text class="mt" x="2109" y="3317">105</text>
<circle class="mb" cx="2095" cy="3533" r="16"/><text class="mt" x="2095" y="3539">6</text>
<circle class="mr" cx="2137" cy="3529" r="16"/><text class="mt" x="2137" y="3535">106</text>
<circle class="mb" cx="2233" cy="3528" r="16"/><text class="mt" x="2233" y="3534">7</text>
<circle class="mr" cx="2119" cy="3770" r="16"/><text class="mt" x="2119" y="3776">107</text>
<circle class="mb" cx="2174" cy="3809" r="16"/><text class="mt" x="2174" y="3815">8</text>
</g>
<g id="map-shields">
<g transform="translate(2696 2520) scale(.77)"><use href="#us"/><text class="sm" y="12">52</text></g>
<g transform="translate(3024 2955) scale(.77)"><use href="#us"/><text class="sm" y="12">52</text></g>
<g transform="translate(2817 2533) scale(.77)"><use href="#nc"/><text class="sm" y="12">65</text></g>
<g transform="translate(2955 2625) scale(.77)"><use href="#nc"/><text class="sm" y="12">66</text></g>
<g transform="translate(2233 2873) scale(.77)"><use href="#nc"/><text class="sm" y="12">67</text></g>
<g transform="translate(2393 2982) scale(.77)"><use href="#nc"/><text class="sm" y="12">67</text></g>
<g transform="translate(2119 3903) scale(.77)"><use href="#is"/><text class="shw" y="14" style="font-size:27px">274</text></g>
</g>
<g id="map-text">
<text class="b" transform="translate(1930 2690) rotate(-25)">Fries Creek</text>
<text class="b" transform="translate(2296 2640) rotate(-65)">Mill Creek No 3</text>
<text class="b" transform="translate(3100 2540) rotate(-50)">Rough Fork</text>
<text class="b" transform="translate(2672 2540) rotate(-90)">Beaver</text>
<text class="b" transform="translate(2298 3360) rotate(-10)">Old Mill Branch</text>
<text class="b" transform="translate(2305 3470) rotate(8)">James Branch</text>
<text class="b" transform="translate(2412 3375) rotate(85)">Muddy Creek</text>
<text class="g" style="font-size:24px" x="1940" y="2827">Dozier</text>
<text class="g" style="font-size:24px" x="2516" y="2871">Bethania</text>
<text class="g" x="2540" y="2818">Club</text>
<text class="g" transform="translate(2765 2875) rotate(72)">Murray Rd</text>
<text class="g" transform="translate(2305 3050) rotate(90)">Transou Rd</text>
<text class="g" x="2780" y="3042" transform="rotate(3 2780 3042)">Shattalon Dr</text>
<text class="g" transform="translate(2850 3180) rotate(-45)">Mill Creek</text>
<text class="g" style="font-size:24px" x="2305" y="3192">Pfafftown</text>
<text class="g" transform="translate(2205 3300) rotate(78)">Olivet Church Rd</text>
<text class="g" transform="translate(2490 3240) rotate(-70)">Shattalon Dr</text>
<text class="g" transform="translate(2770 3260) rotate(55)">Reynolda Rd</text>
<text class="g" transform="translate(3100 3290) rotate(85)">Cherry St</text>
<text class="g" transform="translate(2655 3680) rotate(-55)">N Peace Haven Rd</text>
<text class="g" x="3000" y="3408">Wake Forest</text><text class="g" x="3000" y="3427">University</text>
<text class="g" x="3050" y="3484">Old Town Club</text>
<text class="g" x="2800" y="3734">Forsyth Country</text><text class="g" x="2800" y="3754">Club</text>
<text class="g" transform="translate(2270 3620) rotate(85)">Meadowlark Dr</text>
<text class="g" transform="translate(2340 3880) rotate(22)">Country Club Rd</text>
<text class="g" transform="translate(1950 3870) rotate(28)">Lewisville Clemmons Rd</text>
<text class="h m18" x="2393" y="2629">SR 1611</text><text class="h m18" x="2393" y="2652">(Doral Dr)</text>
<text class="h m18" x="2491" y="2774">SR 1611</text><text class="h m18" x="2491" y="2797">(Bethania-Tobaccoville Rd)</text>
<text class="h m27" x="2524" y="2586">Tobaccoville</text>
<text class="h m27" x="2923" y="2514">Rural Hall</text>
<text class="h m27" x="1944" y="3640">Lewisville</text>
<text class="h m27" x="2994" y="3621" style="text-anchor:start">Winston-Salem</text>
<text class="h m18" x="2233" y="3241">SR 1525</text><text class="h m18" x="2233" y="3265">(Yadkinville Rd)</text>
<text class="h m18" x="1981" y="3355">SR 1525</text><text class="h m18" x="1981" y="3378">(Yadkinville Rd)</text>
<text class="h m18" x="1965" y="3523">SR 1348</text><text class="h m18" x="1965" y="3546">(Robinhood Rd)</text>
<text class="h m18" x="2355" y="3534">SR 1348</text><text class="h m18" x="2355" y="3557">(Robinhood Rd)</text>
<text class="h m18" x="1989" y="3728">SR 1001</text><text class="h m18" x="1989" y="3751">(Shallowford Rd)</text>
<text class="h m18" x="2305" y="3825">SR 1001</text><text class="h m18" x="2305" y="3847">(Country Club Rd)</text>
<text class="h" style="font-size:22px;font-weight:400" x="2504" y="3893">0</text>
<text class="h" style="font-size:22px;font-weight:400" x="2685" y="3893">1.25</text>
<text class="h" style="font-size:22px;font-weight:400" x="2867" y="3893">2.5</text>
</g>
<rect x="2504" y="3908" width="656" height="16" fill="#000"/>
<rect x="2686" y="3910" width="180" height="13" fill="#fff"/>
<g id="north-arrow"><circle cx="1929" cy="2543" r="33" fill="#fff" stroke="#000" stroke-width="3"/><path d="M1929 2517 1945 2564 1929 2557 1913 2564Z"/></g>
</g>
<rect x="1859" y="2474" width="1301" height="1465" fill="none" stroke="#000" stroke-width="3"/>
</g>

<g id="legend">
<path class="lg" style="stroke-width:5" d="M1344 3977H3160"/>
<path class="lg" d="M1344 3975V4060M1631 3975V4060M2735 3975V4060M3047 3975V4060M2735 4032H3160"/>
<text x="1488" y="4058" text-anchor="middle" style="font-size:94px;font-weight:700">2050</text>
<circle class="blue" style="stroke-width:4" cx="1680" cy="4039" r="19"/><text class="w" x="1680" y="4046">X</text>
<text x="1739" y="4048" style="font-size:20px">Study Area Intersection ID</text>
<text class="s" x="2256" y="3996">PM</text><text class="s" x="2231" y="4013">K</text><use href="#ar" x="2255" y="4006"/><text class="s" x="2280" y="4013">D</text>
<text class="s" x="2256" y="4031">AM</text><text class="s" x="2231" y="4047">D</text><use href="#al" x="2255" y="4041"/><text class="s" x="2280" y="4047">K</text>
<text class="s" x="2256" y="4064">(d,t)</text>
<text x="2724" y="4014" text-anchor="end" style="font-size:37px;font-weight:700">LEGEND</text>
<text x="2747" y="4012" style="font-size:26.5px"><tspan font-weight="700">STIP:</tspan> R-2247EA+D</text>
<text x="3059" y="4012" style="font-size:26.5px"><tspan font-weight="700">WBS:</tspan> 50</text>
<text x="2747" y="4069" style="font-size:26.5px"><tspan font-weight="700">COUNTY:</tspan> Forsyth</text>
<text x="3059" y="4069" style="font-size:26.5px;font-weight:700">DIVISION</text>
</g>
</svg>
